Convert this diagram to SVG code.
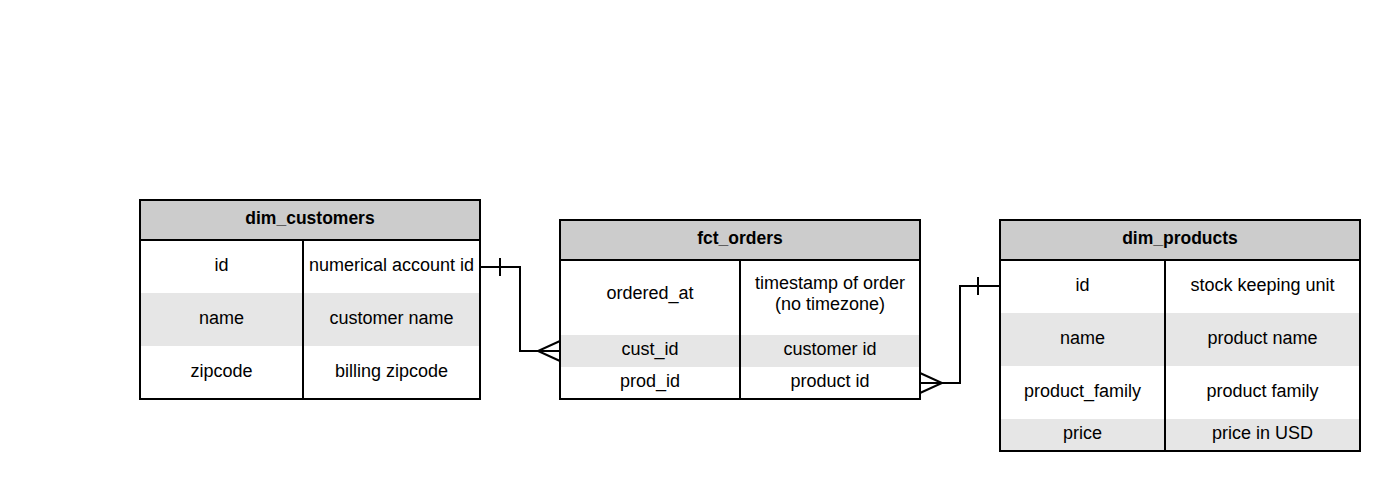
<svg xmlns="http://www.w3.org/2000/svg" width="1400" height="491" viewBox="0 0 1400 491">
<style>
.hdr{fill:#cccccc}
.alt{fill:#e6e6e6}
.bg{fill:#ffffff}
.frame{fill:none;stroke:#000;stroke-width:2}
.ln{stroke:#000;stroke-width:2;fill:none}
text{font-family:"Liberation Sans",Arial,sans-serif;font-size:18px;fill:#000;text-anchor:middle}
.t{font-weight:bold;font-size:17.5px}
</style>
<rect width="1400" height="491" fill="#fff"/>
<g id="dim_customers">
<rect class="bg" x="140" y="200" width="340" height="199"/>
<rect class="hdr" x="140" y="200" width="340" height="40"/>
<rect class="alt" x="140" y="293" width="340" height="53"/>
<line class="ln" x1="140" y1="240" x2="480" y2="240"/>
<line class="ln" x1="303" y1="240" x2="303" y2="399"/>
<rect class="frame" x="140" y="200" width="340" height="199"/>
<text class="t" x="310" y="224">dim_customers</text>
<text x="221.5" y="270.5">id</text>
<text x="391.5" y="270.5">numerical account id</text>
<text x="221.5" y="323.5">name</text>
<text x="391.5" y="323.5">customer name</text>
<text x="221.5" y="376.5">zipcode</text>
<text x="391.5" y="376.5">billing zipcode</text>
</g>
<g id="fct_orders">
<rect class="bg" x="560" y="220" width="360" height="179"/>
<rect class="hdr" x="560" y="220" width="360" height="40"/>
<rect class="alt" x="560" y="335" width="360" height="32"/>
<line class="ln" x1="560" y1="260" x2="920" y2="260"/>
<line class="ln" x1="740" y1="260" x2="740" y2="399"/>
<rect class="frame" x="560" y="220" width="360" height="179"/>
<text class="t" x="740" y="244">fct_orders</text>
<text x="650" y="299">ordered_at</text>
<text x="830" y="289">timestamp of order</text>
<text x="830" y="310">(no timezone)</text>
<text x="650" y="355">cust_id</text>
<text x="830" y="355">customer id</text>
<text x="650" y="387">prod_id</text>
<text x="830" y="387">product id</text>
</g>
<g id="dim_products">
<rect class="bg" x="1000" y="220" width="360" height="231"/>
<rect class="hdr" x="1000" y="220" width="360" height="40"/>
<rect class="alt" x="1000" y="313" width="360" height="53"/>
<rect class="alt" x="1000" y="419" width="360" height="32"/>
<line class="ln" x1="1000" y1="260" x2="1360" y2="260"/>
<line class="ln" x1="1165" y1="260" x2="1165" y2="451"/>
<rect class="frame" x="1000" y="220" width="360" height="231"/>
<text class="t" x="1180" y="244">dim_products</text>
<text x="1082.5" y="290.5">id</text>
<text x="1262.5" y="290.5">stock keeping unit</text>
<text x="1082.5" y="343.5">name</text>
<text x="1262.5" y="343.5">product name</text>
<text x="1082.5" y="396.5">product_family</text>
<text x="1262.5" y="396.5">product family</text>
<text x="1082.5" y="439">price</text>
<text x="1262.5" y="439">price in USD</text>
</g>
<g id="connectors">
<polyline class="ln" points="480,267 520,267 520,351 560,351"/>
<line class="ln" x1="500" y1="258" x2="500" y2="276"/>
<polyline class="ln" points="560,341 538,351 560,361"/>
<polyline class="ln" points="1000,286 960,286 960,383 920,383"/>
<line class="ln" x1="978" y1="277" x2="978" y2="295"/>
<polyline class="ln" points="920,373 942,383 920,393"/>
</g>
</svg>
